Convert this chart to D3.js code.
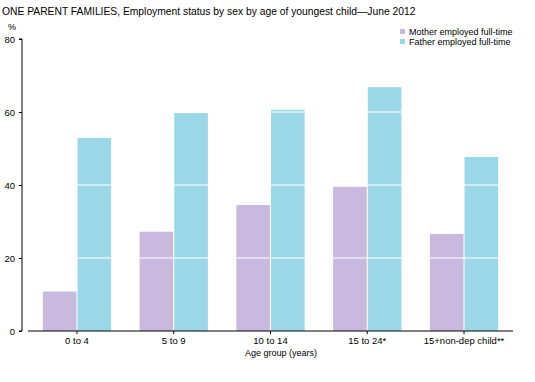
<!DOCTYPE html>
<html><head><meta charset="utf-8">
<script src="https://cdn.jsdelivr.net/npm/d3@7"></script>
<style>
body{margin:0;background:#fff;}
text{font-family:"Liberation Sans",Arial,sans-serif;fill:#000;}
</style></head>
<body><svg id="c" width="535" height="382"></svg>
<script>
const categories = ["0 to 4","5 to 9","10 to 14","15 to 24*","15+non-dep child**"];
const seriesNames = ["Mother employed full-time","Father employed full-time"];
const motherValues = [10.8, 27.2, 34.5, 39.5, 26.6];
const fatherValues = [52.9, 59.7, 60.6, 66.8, 47.7];
const yTicks = [0,20,40,60,80];
const colors = ["#c9b9de","#9ad8e8"];

const svg = d3.select("#c");
const x0 = d3.scaleBand().domain(categories).range([28.6, 512.4]).paddingInner(0.294).paddingOuter(0.147);
const x1 = d3.scaleBand().domain(seriesNames).range([0, x0.bandwidth()]).paddingInner(0.03);
const y = d3.scaleLinear().domain([0,80]).range([331,39]);

svg.append("text").attr("x",2).attr("y",15).style("font-size","10.3px")
  .text("ONE PARENT FAMILIES, Employment status by sex by age of youngest child\u2014June 2012");

const data = [motherValues, fatherValues];
seriesNames.forEach((s,i)=>{
  svg.append("g").selectAll("rect").data(categories).join("rect")
    .attr("x",d=>x0(d)+x1(s)).attr("width",x1.bandwidth())
    .attr("y",(d,j)=>y(data[i][j])).attr("height",(d,j)=>y(0)-y(data[i][j]))
    .attr("fill",colors[i]);
});

// white gridlines over bars
svg.append("g").selectAll("line").data(yTicks.filter(t=>t>0&&t<80)).join("line")
  .attr("x1",28).attr("x2",513).attr("y1",d=>y(d)).attr("y2",d=>y(d))
  .attr("stroke","#fff").attr("stroke-width",1.2);

// y axis
const ya = svg.append("g").attr("transform","translate(22,0)")
  .call(d3.axisLeft(y).tickValues(yTicks).tickSize(3).tickPadding(4));
ya.select(".domain").attr("d","M-3,"+y(80)+"H0V"+y(0)+"H-3").attr("stroke","#000");
ya.selectAll(".tick line").attr("stroke","#000");
ya.selectAll("text").style("font-size","9.5px").style("font-family","'Liberation Sans',Arial,sans-serif");

svg.append("text").attr("x",12).attr("y",30).attr("text-anchor","middle").style("font-size","9px").text("%");

// x axis
const xa = svg.append("g").attr("transform","translate(0,331)")
  .call(d3.axisBottom(x0).tickSize(3).tickSizeOuter(0).tickPadding(3));
xa.select(".domain").attr("d","M28,0H513").attr("stroke","#000");
xa.selectAll(".tick line").attr("stroke","#000");
xa.selectAll("text").style("font-size","9.5px").style("font-family","'Liberation Sans',Arial,sans-serif");

svg.append("text").attr("x",281).attr("y",356).attr("text-anchor","middle").style("font-size","9px").text("Age group (years)");

// legend
const lg = svg.append("g");
seriesNames.forEach((s,i)=>{
  lg.append("rect").attr("x",400).attr("y",29+i*10).attr("width",5).attr("height",5).attr("fill",colors[i]);
  lg.append("text").attr("x",409).attr("y",35+i*10).style("font-size","9px").text(s);
});
</script></body></html>
